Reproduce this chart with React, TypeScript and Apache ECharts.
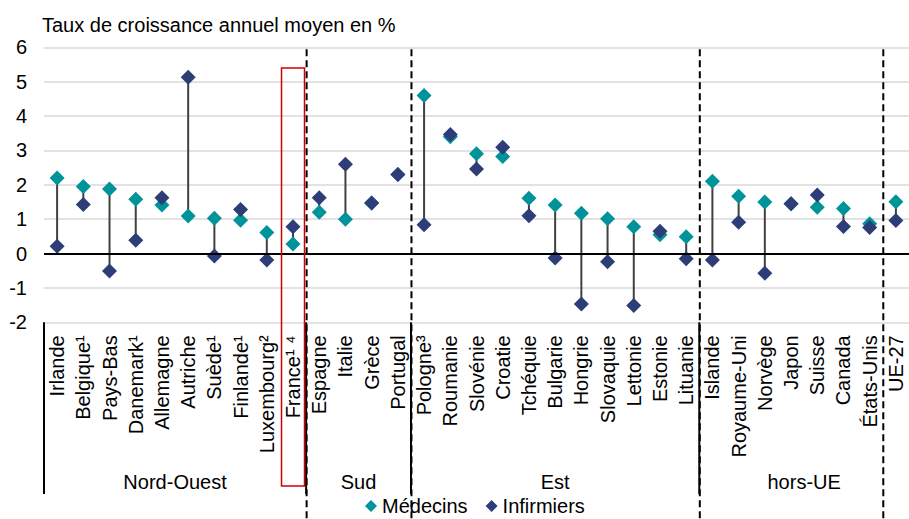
import React, { useEffect, useRef } from "react";
import * as echarts from "echarts";

const categories = [
  "Irlande", "Belgique¹", "Pays-Bas", "Danemark¹", "Allemagne", "Autriche", "Suède¹", "Finlande¹",
  "Luxembourg²", "France¹ ⁴", "Espagne", "Italie", "Grèce", "Portugal", "Pologne³", "Roumanie",
  "Slovénie", "Croatie", "Tchéquie", "Bulgarie", "Hongrie", "Slovaquie", "Lettonie", "Estonie",
  "Lituanie", "Islande", "Royaume-Uni", "Norvège", "Japon", "Suisse", "Canada", "États-Unis", "UE-27",
];
const medecins = [
  2.2, 1.95, 1.88, 1.58, 1.41, 1.09, 1.03, 0.97, 0.61, 0.28, 1.2, 1.0, 1.47, 2.3, 4.6, 3.4, 2.9, 2.82,
  1.61, 1.41, 1.17, 1.01, 0.78, 0.55, 0.49, 2.1, 1.67, 1.5, 1.45, 1.35, 1.31, 0.87, 1.51,
];
const infirmiers = [
  0.21, 1.43, -0.51, 0.39, 1.62, 5.13, -0.07, 1.28, -0.19, 0.78, 1.62, 2.6, 1.47, 2.3, 0.84, 3.46, 2.46,
  3.09, 1.1, -0.13, -1.47, -0.24, -1.51, 0.65, -0.15, -0.19, 0.91, -0.57, 1.45, 1.7, 0.79, 0.76, 0.96,
];
const groupNames = ["Nord-Ouest", "Sud", "Est", "hors-UE"];
const groupStarts = [0, 10, 14, 25];
const groupEnds = [10, 14, 25, 33];
const dashedBoundaries = [10, 14, 25, 32];
const highlightIndex = 9;
const highlightTop = 5.4;
const yTicks = [-2, 6, 1];

const FONT = '"Liberation Sans", Arial, sans-serif';
const FS = 20;
const TEAL = "#00939a";
const NAVY = "#2d3d78";

export default function App() {
  const ref = useRef<HTMLDivElement>(null);
  useEffect(() => {
    if (!ref.current) return;
    const chart = echarts.init(ref.current, null, { renderer: "svg" });
    const option: any = {
      animation: false,
      textStyle: { fontFamily: FONT },
      title: {
        text: "Taux de croissance annuel moyen en %",
        left: 37,
        top: 10,
        textStyle: { fontSize: FS, fontWeight: "normal", color: "#000", fontFamily: FONT },
      },
      legend: {
        left: 360,
        top: 491,
        itemWidth: 12,
        itemHeight: 12,
        itemGap: 18,
        icon: "diamond",
        textStyle: { fontSize: FS, lineHeight: 15, color: "#000", fontFamily: FONT },
        data: ["Médecins", "Infirmiers"],
      },
      grid: { left: 44, top: 47.3, width: 872, height: 275, containLabel: false },
      xAxis: {
        type: "category",
        data: categories,
        boundaryGap: true,
        axisLine: { show: false },
        axisTick: { show: false },
        axisLabel: {
          rotate: 90,
          margin: 13,
          fontSize: FS,
          color: "#000",
          fontFamily: FONT,
          interval: 0,
        },
      },
      yAxis: {
        type: "value",
        min: yTicks[0],
        max: yTicks[1],
        interval: yTicks[2],
        axisLine: { show: false },
        axisTick: { show: false },
        axisLabel: { fontSize: FS, color: "#000", margin: 17, fontFamily: FONT },
        splitLine: { lineStyle: { color: "#d9d9d9", width: 1.5 } },
      },
      series: [
        {
          type: "custom",
          name: "liens",
          z: 1,
          renderItem: (params: any, api: any) => {
            const p1 = api.coord([api.value(0), api.value(1)]);
            const p2 = api.coord([api.value(0), api.value(2)]);
            return {
              type: "line",
              shape: { x1: p1[0], y1: p1[1], x2: p2[0], y2: p2[1] },
              style: { stroke: "#404040", lineWidth: 2 },
            };
          },
          data: categories.map((c, i) => [i, medecins[i], infirmiers[i]]),
          markLine: {
            silent: true,
            symbol: "none",
            label: { show: false },
            lineStyle: { color: "#000", width: 2, type: "solid" },
            data: [{ yAxis: 0 }],
          },
        },
        {
          type: "scatter",
          name: "Médecins",
          z: 3,
          symbol: "diamond",
          symbolSize: 15,
          itemStyle: { color: TEAL, opacity: 1 },
          data: medecins,
        },
        {
          type: "scatter",
          name: "Infirmiers",
          z: 4,
          symbol: "diamond",
          symbolSize: 15,
          itemStyle: { color: NAVY, opacity: 1 },
          data: infirmiers,
        },
      ],
    };
    chart.setOption(option);

    const c0 = chart.convertToPixel({ xAxisIndex: 0 }, categories[0]) as number;
    const c1 = chart.convertToPixel({ xAxisIndex: 0 }, categories[1]) as number;
    const bw = c1 - c0;
    const left = c0 - bw / 2;
    const bx = (k: number) => left + k * bw;
    const yBottom = chart.convertToPixel({ yAxisIndex: 0 }, yTicks[0]) as number;
    const yTop = chart.convertToPixel({ yAxisIndex: 0 }, yTicks[1]) as number;
    const yHl = chart.convertToPixel({ yAxisIndex: 0 }, highlightTop) as number;
    const sepBottom = 494;

    const graphic: any[] = [];
    groupStarts.forEach((s) => {
      graphic.push({
        type: "line",
        silent: true,
        z: 5,
        shape: { x1: bx(s), y1: yBottom, x2: bx(s), y2: sepBottom },
        style: { stroke: "#000", lineWidth: 2 },
      });
    });
    dashedBoundaries.forEach((k) => {
      graphic.push({
        type: "line",
        silent: true,
        z: 6,
        shape: { x1: bx(k) + 0.5, y1: yTop + 2, x2: bx(k) + 0.5, y2: 519 },
        style: { stroke: "#000", lineWidth: 2, lineDash: [7, 4] },
      });
    });
    groupNames.forEach((g, i) => {
      graphic.push({
        type: "text",
        silent: true,
        z: 6,
        x: (bx(groupStarts[i]) + bx(groupEnds[i])) / 2,
        y: 482,
        style: {
          text: g,
          fill: "#000",
          font: `${FS}px ${FONT}`,
          lineHeight: 15,
          align: "center",
          verticalAlign: "middle",
          textAlign: "center",
          textVerticalAlign: "middle",
        },
      });
    });
    const hc = c0 + highlightIndex * bw;
    graphic.push({
      type: "rect",
      silent: true,
      z: 7,
      shape: { x: hc - 11.5, y: yHl, width: 23, height: 486 - yHl },
      style: { fill: "none", stroke: "#d00000", lineWidth: 1.5 },
    });
    chart.setOption({ graphic });

    return () => chart.dispose();
  }, []);
  return (
    <div
      ref={ref}
      style={{ position: "fixed", left: 0, top: 0, width: 909, height: 519, background: "#fff" }}
    />
  );
}
